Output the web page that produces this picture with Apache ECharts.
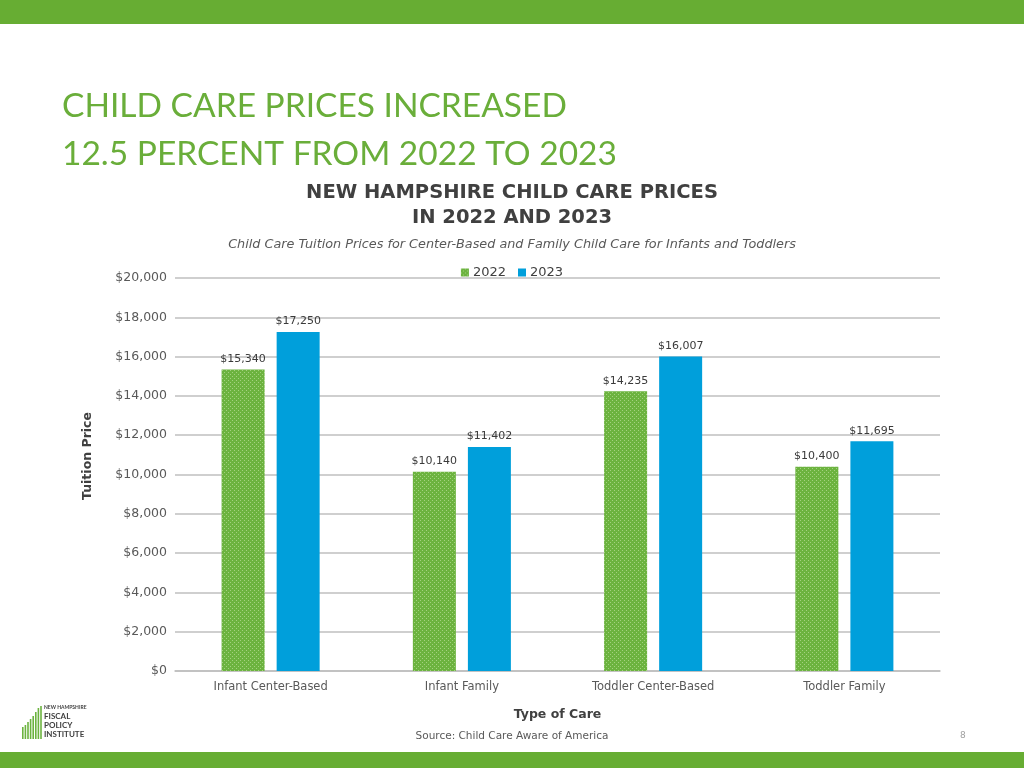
<!DOCTYPE html>
<html>
<head>
<meta charset="utf-8">
<script src="https://cdn.jsdelivr.net/npm/echarts@6/dist/echarts.min.js"></script>
<style>
html,body{margin:0;padding:0;background:#fff;}
#chart{width:1024px;height:768px;}
</style>
</head>
<body>
<div id="chart"></div>
<script>
const categories = ['Infant Center-Based', 'Infant Family', 'Toddler Center-Based', 'Toddler Family'];
const seriesNames = ['2022', '2023'];
const values2022 = [15340, 10140, 14235, 10400];
const values2023 = [17250, 11402, 16007, 11695];
const yTicks = [0, 2000, 4000, 6000, 8000, 10000, 12000, 14000, 16000, 18000, 20000];

const fmt = v => '$' + v.toLocaleString('en-US');
const FONT = '"DejaVu Sans", sans-serif';
const TFONT = 'Lato, "Open Sans", sans-serif';
const GREEN = '#6cb33f';
const BLUE = '#009fdb';

// dotted texture for the 2022 bars
const pc = document.createElement('canvas');
pc.width = 4; pc.height = 4;
const pctx = pc.getContext('2d');
pctx.fillStyle = GREEN; pctx.fillRect(0, 0, 4, 4);
pctx.fillStyle = '#a3d27f';
pctx.fillRect(0, 0, 1, 1); pctx.fillRect(2, 2, 1, 1);
const greenPattern = {image: pc, repeat: 'repeat'};

const chart = echarts.init(document.getElementById('chart'), null, {renderer: 'canvas'});

// logo staircase lines (decoration)
const logoLines = [];
const logoHeights = [12, 14, 17, 20, 23, 27, 31, 33];
logoHeights.forEach((h, i) => {
  logoLines.push({type: 'rect', shape: {x: 22 + i * 2.6, y: 739 - h, width: 1.6, height: h}, style: {fill: GREEN}, silent: true});
});

const option = {
  animation: false,
  backgroundColor: '#ffffff',
  textStyle: {fontFamily: FONT},
  title: [
    {text: 'CHILD CARE PRICES INCREASED\n12.5 PERCENT FROM 2022 TO 2023', left: 57, top: 77,
     textStyle: {color: '#6aae3a', fontSize: 33.5, fontWeight: 'normal', fontFamily: TFONT, lineHeight: 48}},
    {text: 'NEW HAMPSHIRE CHILD CARE PRICES\nIN 2022 AND 2023', left: 'center', top: 175,
     textStyle: {color: '#404040', fontSize: 19.5, fontWeight: 'bold', fontFamily: FONT, lineHeight: 25}},
    {text: 'Child Care Tuition Prices for Center-Based and Family Child Care for Infants and Toddlers', left: 'center', top: 233,
     textStyle: {color: '#595959', fontSize: 12.8, fontStyle: 'italic', fontWeight: 'normal', fontFamily: FONT}},
    {text: 'Source: Child Care Aware of America', left: 'center', top: 726,
     textStyle: {color: '#595959', fontSize: 10.5, fontWeight: 'normal', fontFamily: FONT}},
    {text: '8', left: 955, top: 726,
     textStyle: {color: '#a0a0a0', fontSize: 9, fontWeight: 'normal', fontFamily: FONT}}
  ],
  legend: {
    data: seriesNames, top: 261, left: 'center', itemWidth: 8, itemHeight: 8, itemGap: 12,
    icon: 'rect',
    textStyle: {color: '#404040', fontSize: 13, fontFamily: FONT, padding: [0, 0, 0, -1]}
  },
  grid: {left: 175, right: 84, top: 278, bottom: 97, containLabel: false},
  xAxis: {
    type: 'category', data: categories,
    name: 'Type of Care', nameLocation: 'middle', nameGap: 37,
    nameTextStyle: {color: '#404040', fontSize: 12.5, fontWeight: 'bold', fontFamily: FONT},
    axisLine: {show: true, lineStyle: {color: '#bfbfbf', width: 1.5}},
    axisTick: {show: false},
    axisLabel: {color: '#595959', fontSize: 11.5, margin: 10, fontFamily: FONT}
  },
  yAxis: {
    type: 'value', min: 0, max: 20000, interval: 2000,
    axisLine: {show: false}, axisTick: {show: false},
    splitLine: {lineStyle: {color: '#bfbfbf', width: 1.5}},
    axisLabel: {color: '#595959', fontSize: 12.5, margin: 8, fontFamily: FONT,
      formatter: v => yTicks.includes(v) ? fmt(v) : ''}
  },
  series: [
    {
      name: seriesNames[0], type: 'bar', data: values2022, barWidth: 43, barGap: '28%',
      itemStyle: {color: greenPattern},
      label: {show: true, position: 'top', distance: 5, color: '#3a3a3a', fontSize: 11, fontFamily: FONT, formatter: p => fmt(p.value)}
    },
    {
      name: seriesNames[1], type: 'bar', data: values2023, barWidth: 43,
      itemStyle: {color: BLUE},
      label: {show: true, position: 'top', distance: 5, color: '#3a3a3a', fontSize: 11, fontFamily: FONT, formatter: p => fmt(p.value)}
    }
  ],
  graphic: [
    {type: 'rect', shape: {x: 0, y: 0, width: 1024, height: 24}, style: {fill: '#67ad33'}, silent: true},
    {type: 'rect', shape: {x: 0, y: 752, width: 1024, height: 16}, style: {fill: '#67ad33'}, silent: true},
    {type: 'text', x: 88, y: 456, rotation: Math.PI / 2, silent: true,
     style: {text: 'Tuition Price', fill: '#404040', font: 'bold 12.5px "DejaVu Sans", sans-serif', align: 'center', verticalAlign: 'middle'}},
    ...logoLines,
    {type: 'text', left: 44, top: 705, style: {text: 'NEW HAMPSHIRE', fill: '#404040', font: 'bold 5px Lato, sans-serif'}},
    {type: 'text', left: 44, top: 712, style: {text: 'FISCAL\nPOLICY\nINSTITUTE', fill: '#404040', font: 'bold 8px Lato, sans-serif', lineHeight: 9}}
  ]
};
chart.setOption(option);
</script>
</body>
</html>
